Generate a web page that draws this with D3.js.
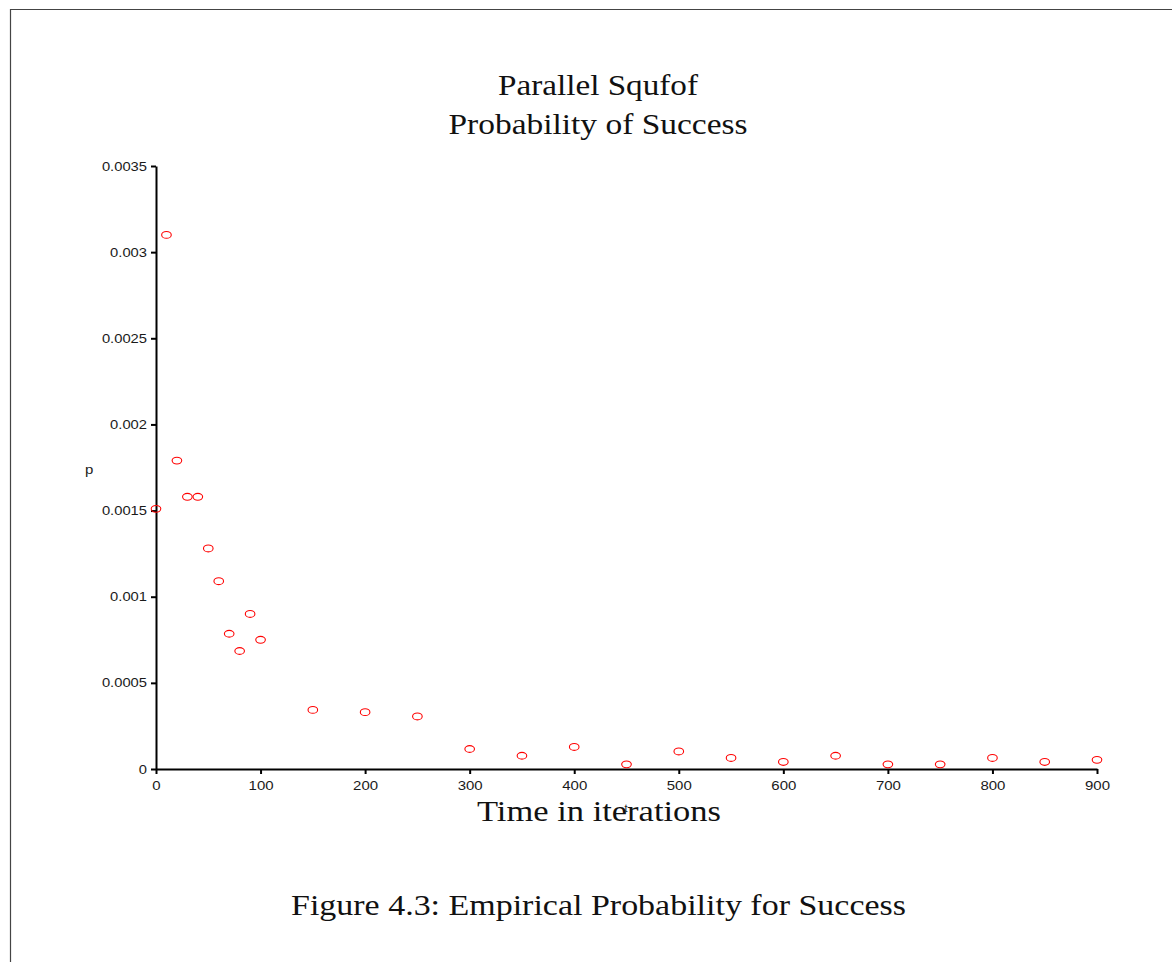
<!DOCTYPE html>
<html>
<head>
<meta charset="utf-8">
<script src="https://cdn.jsdelivr.net/npm/d3@7"></script>
<style>
  html, body { margin: 0; padding: 0; background: #fff; }
  svg { display: block; }
</style>
</head>
<body>
<svg id="chart" width="1172" height="962"></svg>
<script>
// ---- data ----
const iterations = [0, 10, 20, 30, 40, 50, 60, 70, 80, 90, 100, 150, 200, 250, 300, 350, 400, 450, 500, 550, 600, 650, 700, 750, 800, 850, 900];
const probability = [0.00151, 0.00310, 0.00179, 0.00158, 0.00158, 0.00128, 0.00109, 0.000785, 0.000685, 0.000900, 0.000750,
  0.000343, 0.000330, 0.000305, 0.000116, 0.000077, 0.000128, 0.000027, 0.000102, 0.000064, 0.000041,
  0.000077, 0.000027, 0.000027, 0.000064, 0.000041, 0.000053];
const xTicks = [0, 100, 200, 300, 400, 500, 600, 700, 800, 900];
const yTicks = [0, 0.0005, 0.001, 0.0015, 0.002, 0.0025, 0.003, 0.0035];
const yTickLabels = ["0", "0.0005", "0.001", "0.0015", "0.002", "0.0025", "0.003", "0.0035"];
const titleLines = ["Parallel Squfof", "Probability of Success"];
const xLabel = "Time in iterations";
const yLabel = "p";
const caption = "Figure 4.3: Empirical Probability for Success";

(function () {
// ---- layout ----
const svg = d3.select("#chart");
const mLeft = 156, mRight = 1097, mTop = 166, mBottom = 769;

const x = d3.scaleLinear().domain([0, 900]).range([mLeft, mRight]);
const y = d3.scaleLinear().domain([0, 0.0035]).range([mBottom, mTop]);

// page border (top and left only)
svg.append("path")
  .attr("d", "M10.5,962 L10.5,9.5 L1172,9.5")
  .attr("fill", "none").attr("stroke", "#444").attr("stroke-width", 1.2);

const tickFont = "'Liberation Sans', Arial, Helvetica, sans-serif";
const serif = "'Liberation Serif', 'Times New Roman', serif";

// x axis
const gx = svg.append("g").attr("transform", `translate(0,${mBottom})`)
  .call(d3.axisBottom(x).tickValues(xTicks).tickSize(5).tickSizeOuter(0).tickPadding(7).tickFormat(d3.format("d")));
// y axis
const gy = svg.append("g").attr("transform", `translate(${mLeft},0)`)
  .call(d3.axisLeft(y).tickValues(yTicks).tickSize(5).tickSizeOuter(0).tickPadding(4)
    .tickFormat((d, i) => yTickLabels[i]));

[gx, gy].forEach(g => {
  g.select(".domain").attr("stroke", "#000").attr("stroke-width", 2);
  g.selectAll(".tick line").attr("stroke", "#000").attr("stroke-width", 2);
  g.selectAll(".tick text").attr("fill", "#1a1a1a")
    .attr("font-family", tickFont).attr("font-size", 12.5);
});
// horizontal stretch of tick labels (matching reference rendering)
gx.selectAll(".tick text").attr("transform", "scale(1.2,1)").attr("x", 0);
gy.selectAll(".tick text").attr("transform", "translate(-9,0) scale(1.18,1)").attr("x", 0);

// points
svg.append("g").selectAll("ellipse")
  .data(iterations.map((d, i) => [d, probability[i]]))
  .join("ellipse")
  .attr("cx", d => x(d[0]))
  .attr("cy", d => y(d[1]))
  .attr("rx", 4.8).attr("ry", 3.4)
  .attr("fill", "none").attr("stroke", "#ff0000").attr("stroke-width", 1.1);

// titles
svg.append("text").attr("x", 598).attr("y", 95).attr("text-anchor", "middle")
  .attr("font-family", serif).attr("font-size", 29).attr("fill", "#111")
  .attr("textLength", 200).attr("lengthAdjust", "spacingAndGlyphs")
  .text(titleLines[0]);
svg.append("text").attr("x", 598).attr("y", 134).attr("text-anchor", "middle")
  .attr("font-family", serif).attr("font-size", 29).attr("fill", "#111")
  .attr("textLength", 299).attr("lengthAdjust", "spacingAndGlyphs")
  .text(titleLines[1]);

// axis labels
svg.append("text").attr("x", 599).attr("y", 821).attr("text-anchor", "middle")
  .attr("font-family", serif).attr("font-size", 29).attr("fill", "#111")
  .attr("textLength", 244).attr("lengthAdjust", "spacingAndGlyphs")
  .text(xLabel);
svg.append("text").attr("x", 626).attr("y", 812).attr("text-anchor", "middle")
  .attr("font-family", tickFont).attr("font-size", 11).attr("fill", "#222")
  .text("t");
svg.append("text").attr("transform", "translate(85,474) scale(1.2,1)")
  .attr("font-family", tickFont).attr("font-size", 12.5).attr("fill", "#1a1a1a")
  .text(yLabel);

// caption
svg.append("text").attr("x", 598.5).attr("y", 915).attr("text-anchor", "middle")
  .attr("font-family", serif).attr("font-size", 29).attr("fill", "#111")
  .attr("textLength", 615).attr("lengthAdjust", "spacingAndGlyphs")
  .text(caption);
})();
</script>
</body>
</html>
